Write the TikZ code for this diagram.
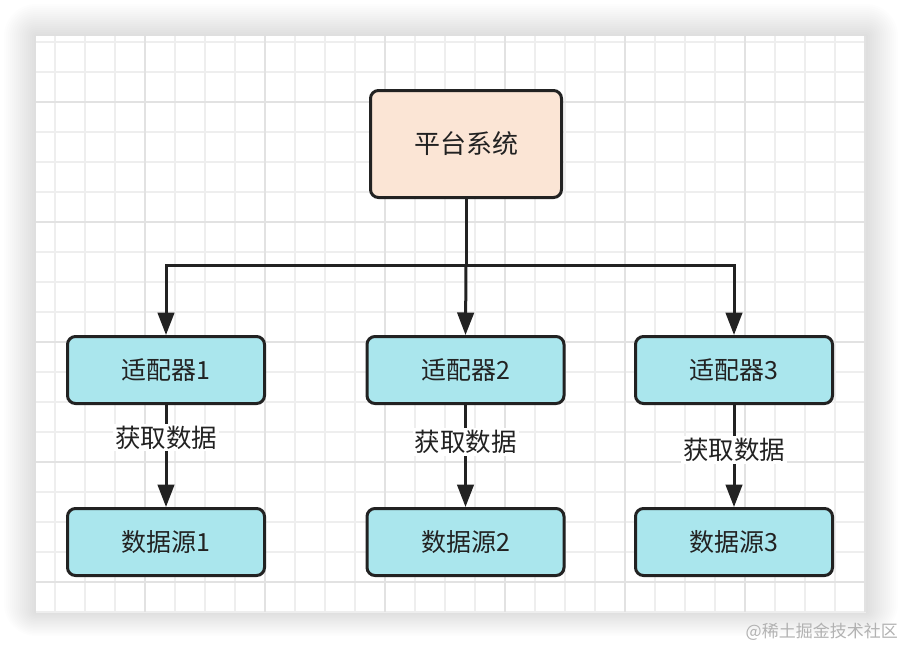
\documentclass[tikz,border=0pt]{standalone}
\usepackage{fontspec}
\newfontfamily\cjk{Noto Sans CJK SC}
\usetikzlibrary{arrows.meta}

\definecolor{peach}{RGB}{251,229,213}
\definecolor{aqua}{RGB}{170,230,237}
\definecolor{ink}{RGB}{34,34,34}
\definecolor{gridthin}{RGB}{238,238,238}
\definecolor{gridbold}{RGB}{226,226,226}
\definecolor{markgray}{RGB}{178,178,178}

\tikzset{
  box/.style={draw=ink, line width=3pt, rounded corners=8pt, inner sep=0pt,
    minimum width=197pt, minimum height=67pt, text=ink,
    font=\cjk\fontsize{25}{29}\selectfont},
  link/.style={draw=ink, line width=3pt, -{Triangle[width=16.5pt,length=22.5pt]}},
  tag/.style={fill=white, inner sep=2pt, text=ink, font=\cjk\fontsize{25.5}{29}\selectfont}
}

\begin{document}
\begin{tikzpicture}[x=1pt,y=-1pt]
  \useasboundingbox (0,0) rectangle (904,648);
  \fill[white] (0,0) rectangle (904,648);

  % soft shadow round the card
  \foreach \s in {1,...,16}
    \fill[black, opacity=0.009, rounded corners=2*\s] (36-2*\s,36-2*\s) rectangle (866+2*\s,612+1.5*\s);
  \fill[white] (36,36) rectangle (866,612);

  % grid
  \foreach \gx in {55,85,...,865} \draw[gridthin, line width=1.4pt] (\gx,36) -- (\gx,612);
  \foreach \gy in {42,72,...,612} \draw[gridthin, line width=1.4pt] (36,\gy) -- (866,\gy);
  \foreach \gx in {145,265,...,865} \draw[gridbold, line width=1.8pt] (\gx,36) -- (\gx,612);
  \foreach \gy in {102,222,...,612} \draw[gridbold, line width=1.8pt] (36,\gy) -- (866,\gy);

  % platform
  \node[box, fill=peach, minimum width=191pt, minimum height=107pt, font=\cjk\fontsize{26}{30}\selectfont] (sys) at (466,144) {平台系统};

  % adapters
  \node[box, fill=aqua] (ad1) at (166,370) {适配器1};
  \node[box, fill=aqua] (ad2) at (465.5,370) {适配器2};
  \node[box, fill=aqua] (ad3) at (734,370) {适配器3};

  % data sources
  \node[box, fill=aqua] (ds1) at (166,542) {数据源1};
  \node[box, fill=aqua] (ds2) at (465.5,542) {数据源2};
  \node[box, fill=aqua] (ds3) at (734,542) {数据源3};

  % fork
  \coordinate (fork) at (466,265);
  \draw[ink, line width=3pt] (sys.south) -- (fork);
  \draw[link] (fork) -| (ad1.north);
  \draw[link] (fork) -- (ad2.north);
  \draw[link] (fork) -| (ad3.north);

  % fetch
  \draw[link] (ad1) -- node[tag, pos=0.32] {获取数据} (ds1);
  \draw[link] (ad2) -- node[tag, pos=0.36] {获取数据} (ds2);
  \draw[link] (ad3) -- node[tag, pos=0.44] {获取数据} (ds3);

  % watermark
  \node[text=markgray, inner sep=0pt, anchor=east, font=\cjk\fontsize{17}{20}\selectfont] (mark) at (898,632) {@稀土掘金技术社区};
\end{tikzpicture}
\end{document}
